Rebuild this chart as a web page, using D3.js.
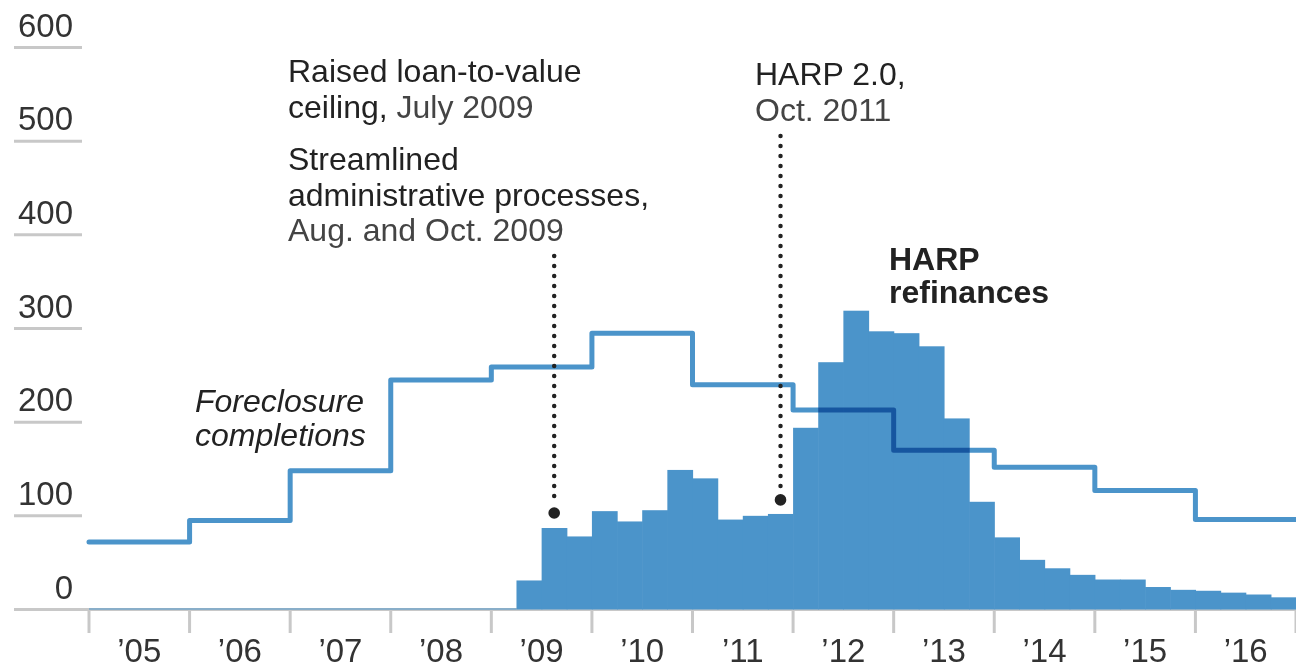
<!DOCTYPE html>
<html>
<head>
<meta charset="utf-8">
<script src="https://cdn.jsdelivr.net/npm/d3@7"></script>
<style>
  html, body { margin: 0; padding: 0; background: #fff; }
  svg { display: block; font-family: "Liberation Sans", Arial, Helvetica, sans-serif; }
</style>
</head>
<body>
<div id="chart"></div>
<script>
// Foreclosure completions, thousands per year
const foreclosureYears = [2005, 2006, 2007, 2008, 2009, 2010, 2011, 2012, 2013, 2014, 2015, 2016];
const foreclosureValues = [72, 95, 148, 245, 259, 295, 240, 213, 170, 152, 127, 96];

// HARP refinances, thousands per quarter
const harpQuarters = [
  "2009Q2", "2009Q3", "2009Q4",
  "2010Q1", "2010Q2", "2010Q3", "2010Q4",
  "2011Q1", "2011Q2", "2011Q3", "2011Q4",
  "2012Q1", "2012Q2", "2012Q3", "2012Q4",
  "2013Q1", "2013Q2", "2013Q3", "2013Q4",
  "2014Q1", "2014Q2", "2014Q3", "2014Q4",
  "2015Q1", "2015Q2", "2015Q3", "2015Q4",
  "2016Q1", "2016Q2", "2016Q3", "2016Q4"
];
const harpValues = [
  31, 87, 78,
  105, 94, 106, 149,
  140, 96, 100, 102,
  194, 264, 319, 297,
  295, 281, 204, 115,
  77, 53, 44, 37,
  32, 32, 24, 21,
  20, 18, 16, 13
];

const yTicks = [0, 100, 200, 300, 400, 500, 600];
const yearTicks = [2005, 2006, 2007, 2008, 2009, 2010, 2011, 2012, 2013, 2014, 2015, 2016, 2017];
const yearLabels = ["’05", "’06", "’07", "’08", "’09", "’10", "’11", "’12", "’13", "’14", "’15", "’16"];

// annotations: date (decimal year), anchor value, label lines [dark, light]
const annotations = [
  {date: 2009.625, value: 103, top: 256, x: 288,
   lines: [["Raised loan-to-value", ""], ["ceiling,", " July 2009"], null,
           ["Streamlined", ""], ["administrative processes,", ""], ["", "Aug. and Oct. 2009"]],
   y0: 82},
  {date: 2011.875, value: 117, top: 136, x: 755,
   lines: [["HARP 2.0,", ""], ["", "Oct. 2011"]],
   y0: 85}
];

const width = 1296, height = 669;
const barColor = "#4b94ca";
const gridColor = "#c8c8c8";

const x = d3.scaleLinear().domain([2005, 2017]).range([89, 1296]);
const y = d3.scaleLinear().domain([0, 600]).range([609.5, 47.5]);

const svg = d3.select("#chart").append("svg")
    .attr("width", width)
    .attr("height", height);

// y gridlines (short stubs under the labels)
svg.append("g")
  .selectAll("line")
  .data(yTicks)
  .join("line")
    .attr("x1", 14)
    .attr("x2", d => d === 0 ? width : 82)
    .attr("y1", d => y(d))
    .attr("y2", d => y(d))
    .attr("stroke", gridColor)
    .attr("stroke-width", 3);

svg.append("g")
    .attr("fill", "#333")
    .attr("font-size", 33)
    .attr("text-anchor", "end")
  .selectAll("text")
  .data(yTicks)
  .join("text")
    .attr("x", 73)
    .attr("y", d => y(d) - 11)
    .text(d => d);

// x ticks at year boundaries
svg.append("g")
  .selectAll("line")
  .data(yearTicks)
  .join("line")
    .attr("x1", d => x(d))
    .attr("x2", d => x(d))
    .attr("y1", 610)
    .attr("y2", 633)
    .attr("stroke", gridColor)
    .attr("stroke-width", 3);

svg.append("g")
    .attr("fill", "#333")
    .attr("font-size", 33)
    .attr("text-anchor", "middle")
  .selectAll("text")
  .data(yearLabels)
  .join("text")
    .attr("x", (d, i) => x(yearTicks[i] + 0.5))
    .attr("y", 662)
    .text(d => d);

// HARP bars
const q = s => +s.slice(0, 4) + (+s.slice(5) - 1) / 4;
const harp = harpQuarters.map((s, i) => ({t: q(s), v: harpValues[i]}));

svg.append("line")
    .attr("x1", x(2005))
    .attr("x2", x(harp[0].t))
    .attr("y1", y(0) - 0.5)
    .attr("y2", y(0) - 0.5)
    .attr("stroke", barColor)
    .attr("stroke-width", 1.2);

svg.append("g")
    .attr("fill", barColor)
  .selectAll("rect")
  .data(harp)
  .join("rect")
    .attr("x", d => x(d.t))
    .attr("width", d => x(d.t + 0.25) - x(d.t) + 0.6)
    .attr("y", d => y(d.v))
    .attr("height", d => y(0) - y(d.v));

// Foreclosure step line
const fc = foreclosureYears.map((yr, i) => ({t: yr, v: foreclosureValues[i]}));
fc.push({t: fc[fc.length - 1].t + 1, v: fc[fc.length - 1].v});

const line = d3.line()
    .x(d => x(d.t))
    .y(d => y(d.v))
    .curve(d3.curveStepAfter);

svg.append("path")
    .datum(fc)
    .attr("d", line)
    .attr("fill", "none")
    .attr("stroke", barColor)
    .attr("stroke-width", 5)
    .attr("stroke-linejoin", "round")
    .attr("stroke-linecap", "round")
    .style("mix-blend-mode", "multiply");

// annotations
const ann = svg.append("g");
annotations.forEach(a => {
  const ax = x(a.date);
  ann.append("line")
      .attr("x1", ax).attr("x2", ax)
      .attr("y1", a.top).attr("y2", y(a.value) - 9)
      .attr("stroke", "#222")
      .attr("stroke-width", 4.5)
      .attr("stroke-linecap", "round")
      .attr("stroke-dasharray", "0,10");
  ann.append("circle")
      .attr("cx", ax).attr("cy", y(a.value))
      .attr("r", 5.8)
      .attr("fill", "#222");

  let yy = a.y0;
  a.lines.forEach(l => {
    if (l === null) { yy += 17; return; }
    const t = ann.append("text")
        .attr("x", a.x)
        .attr("y", yy)
        .attr("font-size", 32);
    if (l[0]) t.append("tspan").attr("fill", "#222").text(l[0]);
    if (l[1]) t.append("tspan").attr("fill", "#444").style("white-space", "pre").text(l[1]);
    yy += 35.5;
  });
});

// series labels
const seriesLabels = svg.append("g").attr("font-size", 32).attr("fill", "#222");
seriesLabels.append("text").attr("x", 889).attr("y", 270).attr("font-weight", "bold").text("HARP");
seriesLabels.append("text").attr("x", 889).attr("y", 303).attr("font-weight", "bold").text("refinances");
seriesLabels.append("text").attr("x", 195).attr("y", 412).attr("font-style", "italic").text("Foreclosure");
seriesLabels.append("text").attr("x", 195).attr("y", 446).attr("font-style", "italic").text("completions");
</script>
</body>
</html>
